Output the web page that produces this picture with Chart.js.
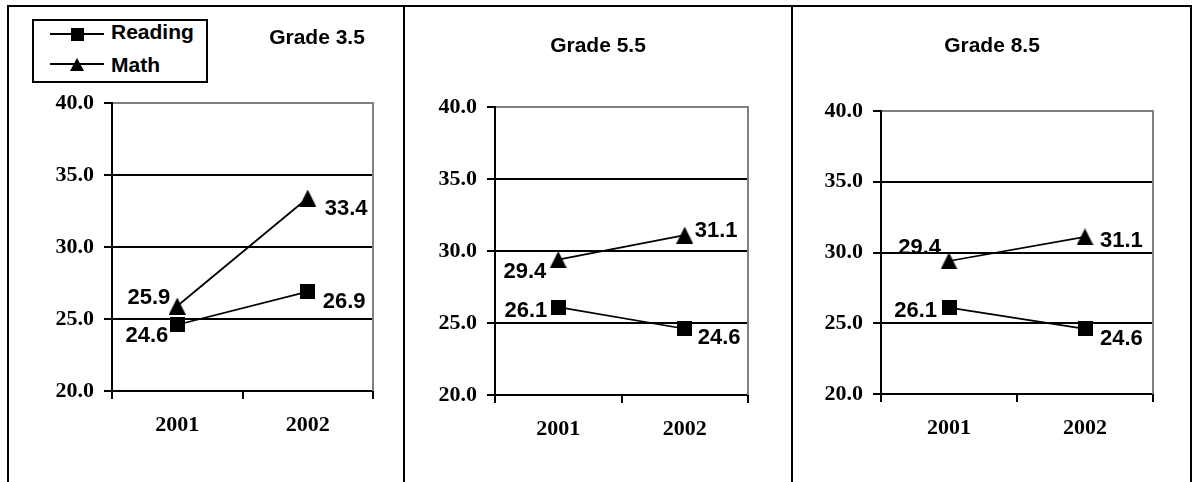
<!DOCTYPE html>
<html>
<head>
<meta charset="utf-8">
<script src="https://cdn.jsdelivr.net/npm/chart.js@4.4.1/dist/chart.umd.min.js"></script>
<style>
  html, body { margin: 0; padding: 0; background: #fff; }
  body { width: 1193px; height: 482px; position: relative; overflow: hidden;
         font-family: "Liberation Sans", Arial, sans-serif; }
  .rule { position: absolute; background: #000; }
  canvas.panel { position: absolute; top: 0; }
  .title { position: absolute; font-weight: bold; font-size: 21px; line-height: 1;
           white-space: nowrap; transform: translateX(-50%); color: #000; }
  #legend { position: absolute; left: 32px; top: 19px; width: 176px; height: 64px;
            box-sizing: border-box; border: 2px solid #000; background: #fff; }
  .legrow { position: absolute; font-weight: bold; font-size: 21px; line-height: 1;
            white-space: nowrap; color: #000; }
  .legicon { position: absolute; }
</style>
</head>
<body>
<!-- panel frame -->
<div class="rule" style="left:7px;top:5px;width:1185px;height:2px"></div>
<div class="rule" style="left:7px;top:5px;width:2px;height:477px"></div>
<div class="rule" style="left:403px;top:5px;width:2px;height:477px"></div>
<div class="rule" style="left:791px;top:5px;width:2px;height:477px"></div>
<div class="rule" style="left:1190px;top:5px;width:2px;height:477px"></div>

<canvas id="c1" class="panel" width="394" height="482" style="left:9px"></canvas>
<canvas id="c2" class="panel" width="386" height="482" style="left:405px"></canvas>
<canvas id="c3" class="panel" width="397" height="482" style="left:793px"></canvas>

<div id="t1" class="title" style="left:317px;top:26px"></div>
<div id="t2" class="title" style="left:598px;top:34px"></div>
<div id="t3" class="title" style="left:992px;top:34px"></div>

<div id="legend"></div>
<canvas id="li0" class="legicon" width="54" height="16" style="left:50px;top:26px"></canvas>
<canvas id="li1" class="legicon" width="54" height="16" style="left:50px;top:56px"></canvas>
<div id="lt0" class="legrow" style="left:111px;top:21px"></div>
<div id="lt1" class="legrow" style="left:111px;top:54px"></div>

<script>
// ---- data ----
const years = ['2001', '2002'];
const seriesNames = ['Reading', 'Math'];
const gradeTitles = ['Grade 3.5', 'Grade 5.5', 'Grade 8.5'];
const yTickValues = [20, 25, 30, 35, 40];

const reading35 = [24.6, 26.9];
const math35    = [25.9, 33.4];
const reading55 = [26.1, 24.6];
const math55    = [29.4, 31.1];
const reading85 = [26.1, 24.6];
const math85    = [29.4, 31.1];

// ---- marker images ----
function marker(shape, w, h) {
  const c = document.createElement('canvas');
  c.width = w; c.height = h;
  const g = c.getContext('2d');
  g.fillStyle = '#000';
  if (shape === 'square') {
    g.fillRect(0, 0, w, h);
  } else {
    g.beginPath();
    g.moveTo(w / 2, 0);
    g.lineTo(w, h);
    g.lineTo(0, h);
    g.closePath();
    g.fill();
  }
  return c;
}
const squareMark = marker('square', 15, 15);
const triangleMark = marker('triangle', 17, 17);

// ---- legend ----
function drawLegendIcon(id, shape) {
  const c = document.getElementById(id);
  const g = c.getContext('2d');
  g.strokeStyle = '#000';
  g.lineWidth = 2;
  g.beginPath();
  g.moveTo(0, 8); g.lineTo(54, 8);
  g.stroke();
  const m = shape === 'square' ? marker('square', 13, 13) : marker('triangle', 14, 13);
  g.drawImage(m, Math.round(27 - m.width / 2), Math.round(8 - m.height / 2));
}
drawLegendIcon('li0', 'square');
drawLegendIcon('li1', 'triangle');
document.getElementById('lt0').textContent = seriesNames[0];
document.getElementById('lt1').textContent = seriesNames[1];
['t1', 't2', 't3'].forEach((id, i) => { document.getElementById(id).textContent = gradeTitles[i]; });

// ---- plugins ----
const plotFrame = {
  id: 'plotFrame',
  beforeDatasetsDraw(chart) {
    const { ctx, chartArea: a } = chart;
    ctx.save();
    ctx.strokeStyle = '#808080';
    ctx.lineWidth = 2;
    ctx.beginPath();
    ctx.moveTo(a.right, a.top - 1);
    ctx.lineTo(a.right, a.bottom);
    ctx.stroke();
    ctx.restore();
  }
};

const valueLabels = {
  id: 'valueLabels',
  afterDatasetsDraw(chart, args, opts) {
    const ctx = chart.ctx;
    ctx.save();
    ctx.font = 'bold 22px "Liberation Sans", Arial, sans-serif';
    ctx.fillStyle = '#000';
    ctx.textBaseline = 'alphabetic';
    chart.data.datasets.forEach((ds, di) => {
      const meta = chart.getDatasetMeta(di);
      meta.data.forEach((pt, i) => {
        const p = opts.place[di][i];
        ctx.textAlign = p.align;
        ctx.fillText(ds.data[i].toFixed(1), pt.x + p.dx, pt.y + p.dy);
      });
    });
    ctx.restore();
  }
};

const Y_WIDTH = 70, X_HEIGHT = 60;
const serifBold = { family: '"Liberation Serif", "Times New Roman", serif', size: 22, weight: 'bold' };

function makeChart(id, reading, math, padding, place) {
  return new Chart(document.getElementById(id), {
    type: 'line',
    data: {
      labels: years,
      datasets: [
        { label: seriesNames[0], data: reading, borderColor: '#000', borderWidth: 1.75,
          pointStyle: squareMark, tension: 0, fill: false },
        { label: seriesNames[1], data: math, borderColor: '#000', borderWidth: 1.75,
          pointStyle: triangleMark, tension: 0, fill: false }
      ]
    },
    options: {
      responsive: false,
      animation: false,
      events: [],
      layout: { padding },
      plugins: {
        legend: { display: false },
        title: { display: false },
        tooltip: { enabled: false },
        valueLabels: { place }
      },
      scales: {
        x: {
          type: 'category',
          offset: true,
          afterFit(s) { s.height = X_HEIGHT; },
          border: { color: '#000', width: 2 },
          grid: { offset: true, drawOnChartArea: false, drawTicks: true, tickLength: 8,
                  tickColor: '#000', lineWidth: 2 },
          ticks: { color: '#000', padding: 13, maxRotation: 0, font: serifBold }
        },
        y: {
          min: yTickValues[0],
          max: yTickValues[yTickValues.length - 1],
          afterFit(s) { s.width = Y_WIDTH; },
          afterBuildTicks(s) { s.ticks = yTickValues.map(v => ({ value: v })); },
          border: { color: '#000', width: 2 },
          grid: {
            color: c => (c.tick && c.tick.value === yTickValues[yTickValues.length - 1]) ? '#808080' : '#000',
            lineWidth: 2, drawTicks: true, tickLength: 8, tickColor: '#000'
          },
          ticks: { color: '#000', padding: 10,
                   callback: v => Number(v).toFixed(1),
                   font: serifBold }
        }
      }
    },
    plugins: [plotFrame, valueLabels]
  });
}

makeChart('c1', reading35, math35,
  { left: 33, right: 30, top: 103, bottom: 31 },
  [[{ align: 'right', dx: -9, dy: 17 }, { align: 'left', dx: 15, dy: 16 }],
   [{ align: 'right', dx: -7, dy: -2 }, { align: 'left', dx: 17, dy: 17 }]]);

makeChart('c2', reading55, math55,
  { left: 20, right: 43, top: 107, bottom: 27 },
  [[{ align: 'right', dx: -11, dy: 10 }, { align: 'left', dx: 13, dy: 15 }],
   [{ align: 'right', dx: -12, dy: 18 }, { align: 'left', dx: 10, dy: 2 }]]);

makeChart('c3', reading85, math85,
  { left: 18, right: 37, top: 111, bottom: 28 },
  [[{ align: 'right', dx: -12, dy: 9 }, { align: 'left', dx: 15, dy: 16 }],
   [{ align: 'right', dx: -8, dy: -7 }, { align: 'left', dx: 15, dy: 10 }]]);
</script>
</body>
</html>
